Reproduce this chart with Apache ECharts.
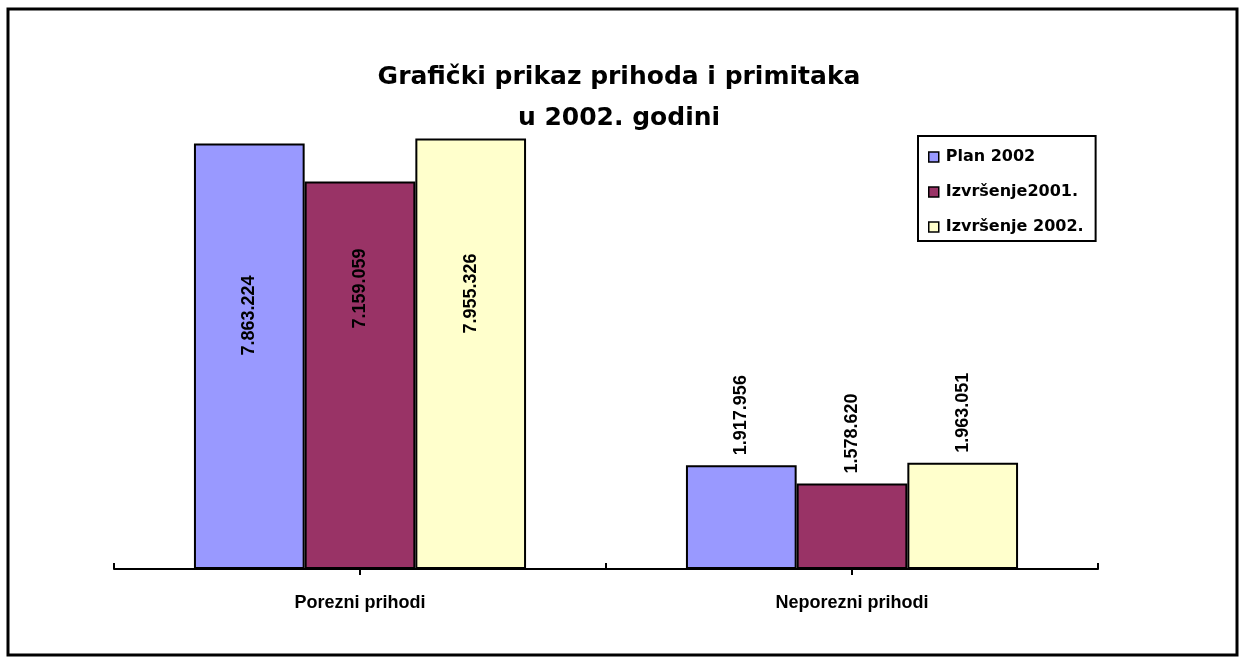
<!DOCTYPE html>
<html>
<head>
<meta charset="utf-8">
<script src="https://cdn.jsdelivr.net/npm/echarts@6/dist/echarts.min.js"></script>
<style>
    html, body { margin: 0; padding: 0; background: #fff; }
    #chart { width: 1242px; height: 658px; }
</style>
</head>
<body>
<div id="chart"></div>
<script>
    const categories = ['Porezni prihodi', 'Neporezni prihodi'];
    const seriesNames = ['Plan 2002', 'Izvršenje2001.', 'Izvršenje 2002.'];
    const plan2002 = [7863224, 1917956];
    const izvrsenje2001 = [7159059, 1578620];
    const izvrsenje2002 = [7955326, 1963051];

    const colors = ['#9999ff', '#993366', '#ffffcc'];
    // koliko je natpis u prvoj grupi spušten od vrha stupca
    const labelDrop = [172, 107, 155];
    const FONT = '"Liberation Sans", Arial, sans-serif';
    const WIDE = '"DejaVu Sans", sans-serif';

    // 7.863.224 format
    function fmt(v) {
        return String(v).replace(/\B(?=(\d{3})+(?!\d))/g, '.');
    }

    function makeSeries(name, values, idx) {
        return {
            name: name,
            type: 'bar',
            barGap: '0%',
            barCategoryGap: '32.5%',
            itemStyle: {
                color: colors[idx],
                borderColor: '#000',
                borderWidth: 2
            },
            data: values.map((v, i) => ({
                value: v,
                label: i === 0 ? {
                    show: true,
                    position: ['50%', labelDrop[idx]],
                    rotate: 90,
                    align: 'center',
                    verticalAlign: 'middle'
                } : {
                    show: true,
                    position: 'top',
                    distance: 10,
                    rotate: 90,
                    align: 'left',
                    verticalAlign: 'middle'
                }
            })),
            label: {
                color: '#000',
                fontFamily: FONT,
                fontWeight: 'bold',
                fontSize: 18,
                formatter: p => fmt(p.value)
            }
        };
    }

    let chart = echarts.init(document.getElementById('chart'));
    let option = {
        backgroundColor: '#fff',
        animation: false,
        title: {
            text: 'Grafički prikaz prihoda i primitaka\nu 2002. godini',
            left: 614,
            top: 52,
            textAlign: 'center',
            textStyle: {
                fontFamily: WIDE,
                fontWeight: 'bold',
                fontSize: 25,
                lineHeight: 41,
                color: '#000'
            }
        },
        legend: {
            data: seriesNames,
            orient: 'vertical',
            left: 918,
            top: 136,
            padding: [13, 12, 6, 10],
            itemGap: 19,
            itemWidth: 10,
            itemHeight: 10,
            borderColor: '#000',
            borderWidth: 2,
            icon: 'rect',
            itemStyle: {
                borderColor: '#000',
                borderWidth: 1.5
            },
            textStyle: {
                fontFamily: WIDE,
                fontWeight: 'bold',
                fontSize: 16,
                color: '#000',
                padding: [0, 0, 0, 2]
            }
        },
        grid: {
            left: 114,
            right: 144,
            top: 136,
            bottom: 89
        },
        xAxis: [
            {
                type: 'category',
                data: categories,
                axisLine: { lineStyle: { color: '#000', width: 2 } },
                axisTick: { show: true, inside: true, length: 6, lineStyle: { color: '#000', width: 2 } },
                axisLabel: {
                    margin: 25,
                    color: '#000',
                    fontFamily: FONT,
                    fontWeight: 'bold',
                    fontSize: 18
                }
            },
            {
                type: 'category',
                data: categories,
                position: 'bottom',
                axisLine: { show: false },
                axisTick: { show: true, alignWithLabel: true, length: 6, lineStyle: { color: '#000', width: 2 } },
                axisLabel: { show: false }
            }
        ],
        yAxis: {
            type: 'value',
            min: 0,
            max: 8000000,
            show: false,
            splitLine: { show: false }
        },
        series: [
            makeSeries(seriesNames[0], plan2002, 0),
            makeSeries(seriesNames[1], izvrsenje2001, 1),
            makeSeries(seriesNames[2], izvrsenje2002, 2)
        ],
        graphic: [
            {
                type: 'rect',
                shape: { x: 8, y: 9, width: 1229, height: 646 },
                style: { fill: 'none', stroke: '#000', lineWidth: 3 },
                silent: true
            }
        ]
    };
    chart.setOption(option);
</script>
</body>
</html>
